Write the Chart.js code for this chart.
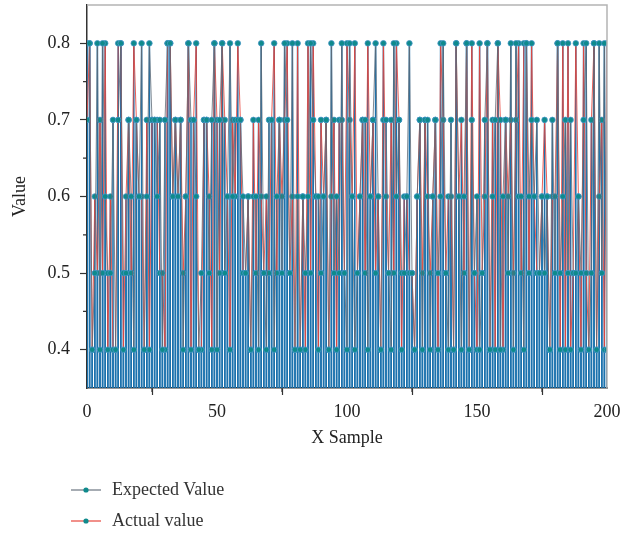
<!DOCTYPE html>
<html>
<head>
<meta charset="utf-8">
<script src="https://cdn.jsdelivr.net/npm/chart.js@4"></script>
<style>
  body { margin: 0; background: #fff; }
  #wrap { position: relative; width: 638px; height: 533px; }
  #legend { position: absolute; left: 71px; top: 474px; font: 18px "Liberation Serif", serif; color: #333; }
  .row { display: flex; align-items: center; height: 31px; }
  .row svg { margin-right: 11px; }
</style>
</head>
<body>
<div id="wrap">
  <canvas id="chart" width="638" height="533"></canvas>
  <div id="legend">
    <div class="row"><svg width="30" height="10"><line x1="0" y1="5" x2="30" y2="5" stroke="#6b7580" stroke-width="1.2"/><circle cx="15" cy="5" r="2.6" fill="#0f8a8c"/></svg>Expected Value</div>
    <div class="row"><svg width="30" height="10"><line x1="0" y1="5" x2="30" y2="5" stroke="#e8453c" stroke-width="1.2"/><circle cx="15" cy="5" r="2.6" fill="#0f8a8c"/></svg>Actual value</div>
  </div>
</div>
<script>
// values, sample 0 .. 200
const expected = [
  0.8,0.8,0.4,0.5,0.8,0.4,0.8,0.6,0.5,0.5,
  0.7,0.4,0.7,0.8,0.5,0.5,0.7,0.6,0.4,0.7,
  0.6,0.8,0.4,0.6,0.8,0.7,0.7,0.6,0.7,0.4,
  0.7,0.8,0.8,0.6,0.7,0.6,0.7,0.4,0.6,0.8,
  0.7,0.7,0.6,0.4,0.5,0.7,0.7,0.5,0.7,0.8,
  0.4,0.7,0.8,0.5,0.6,0.8,0.6,0.7,0.7,0.7,
  0.6,0.5,0.6,0.4,0.6,0.6,0.4,0.8,0.5,0.4,
  0.7,0.7,0.4,0.6,0.7,0.5,0.8,0.7,0.5,0.8,
  0.4,0.6,0.4,0.6,0.5,0.6,0.8,0.7,0.6,0.6,
  0.5,0.6,0.7,0.4,0.8,0.5,0.6,0.5,0.8,0.5,
  0.4,0.8,0.6,0.4,0.5,0.6,0.7,0.7,0.4,0.6,
  0.7,0.8,0.6,0.4,0.7,0.7,0.5,0.4,0.8,0.6,
  0.7,0.5,0.5,0.6,0.8,0.5,0.4,0.6,0.7,0.4,
  0.7,0.7,0.4,0.6,0.7,0.5,0.6,0.8,0.5,0.4,
  0.7,0.4,0.8,0.6,0.4,0.6,0.8,0.4,0.7,0.5,
  0.6,0.4,0.5,0.7,0.8,0.4,0.6,0.7,0.8,0.4,
  0.6,0.7,0.5,0.8,0.4,0.8,0.6,0.6,0.4,0.8,
  0.6,0.7,0.6,0.7,0.5,0.6,0.5,0.6,0.4,0.7,
  0.5,0.8,0.5,0.6,0.7,0.5,0.7,0.5,0.5,0.6,
  0.5,0.7,0.8,0.4,0.5,0.8,0.4,0.8,0.5,0.8,
  0.4
];
const actual = [
  0.7,0.8,0.4,0.6,0.5,0.7,0.5,0.8,0.4,0.6,
  0.4,0.4,0.8,0.8,0.4,0.6,0.7,0.5,0.8,0.7,
  0.6,0.6,0.4,0.7,0.4,0.7,0.7,0.7,0.5,0.5,
  0.4,0.8,0.8,0.6,0.7,0.6,0.7,0.5,0.6,0.8,
  0.4,0.7,0.8,0.4,0.4,0.7,0.7,0.6,0.4,0.8,
  0.7,0.5,0.8,0.7,0.6,0.4,0.7,0.6,0.8,0.7,
  0.5,0.5,0.6,0.4,0.7,0.5,0.7,0.6,0.5,0.6,
  0.5,0.7,0.8,0.5,0.7,0.6,0.7,0.8,0.5,0.6,
  0.4,0.8,0.4,0.6,0.4,0.8,0.5,0.8,0.6,0.4,
  0.7,0.6,0.7,0.4,0.6,0.7,0.4,0.7,0.7,0.5,
  0.8,0.7,0.6,0.8,0.5,0.6,0.7,0.5,0.8,0.6,
  0.7,0.5,0.6,0.4,0.8,0.6,0.5,0.7,0.5,0.8,
  0.7,0.4,0.6,0.6,0.5,0.5,0.4,0.6,0.7,0.5,
  0.7,0.6,0.5,0.6,0.7,0.4,0.8,0.7,0.5,0.6,
  0.6,0.4,0.8,0.6,0.7,0.5,0.8,0.4,0.8,0.5,
  0.4,0.8,0.5,0.6,0.8,0.4,0.7,0.4,0.8,0.7,
  0.4,0.7,0.6,0.7,0.5,0.7,0.8,0.5,0.8,0.8,
  0.5,0.8,0.6,0.5,0.5,0.6,0.7,0.6,0.4,0.6,
  0.6,0.8,0.4,0.8,0.4,0.8,0.4,0.5,0.8,0.6,
  0.4,0.8,0.5,0.4,0.7,0.8,0.4,0.6,0.7,0.4,
  0.8
];
const xTicks = [0, 50, 100, 150, 200];
const xMinor = [25, 75, 125, 175];
const yTicks = [0.4, 0.5, 0.6, 0.7, 0.8];
const yMinor = [0.45, 0.55, 0.65, 0.75];

const font = { family: "'Liberation Serif', serif", size: 18 };
const toPts = (arr) => arr.map((v, i) => ({ x: i, y: v }));

// short minor ticks plus the grey top/right frame
const extras = {
  id: "extras",
  afterDraw(chart) {
    const { ctx, chartArea: a, scales } = chart;
    ctx.save();
    ctx.strokeStyle = "#b4b4b4";
    ctx.lineWidth = 1.5;
    ctx.beginPath();
    ctx.moveTo(a.left, a.top);
    ctx.lineTo(a.right, a.top);
    ctx.lineTo(a.right, a.bottom);
    ctx.stroke();
    ctx.strokeStyle = "#333";
    ctx.lineWidth = 1.2;
    ctx.beginPath();
    xMinor.forEach((v) => {
      const px = scales.x.getPixelForValue(v);
      ctx.moveTo(px, a.bottom);
      ctx.lineTo(px, a.bottom + 4);
    });
    yMinor.forEach((v) => {
      const py = scales.y.getPixelForValue(v);
      ctx.moveTo(a.left, py);
      ctx.lineTo(a.left - 4, py);
    });
    ctx.stroke();
    ctx.restore();
  },
};

const stem = (arr, order) => ({
  type: "bar",
  data: toPts(arr),
  backgroundColor: "#1c72ad",
  barThickness: 0.9,
  grouped: false,
  base: 0.35,
  order,
});

new Chart(document.getElementById("chart"), {
  type: "line",
  plugins: [extras],
  data: {
    datasets: [
      stem(expected, 4),
      stem(actual, 3),
      {
        label: "Actual value",
        data: toPts(actual),
        borderColor: "rgba(232,69,60,0.85)",
        borderWidth: 1,
        pointRadius: 2.8,
        pointBackgroundColor: "#0f8a8c",
        pointBorderColor: "rgba(70,150,200,0.8)",
        pointBorderWidth: 1,
        tension: 0,
        order: 2,
      },
      {
        label: "Expected Value",
        data: toPts(expected),
        borderColor: "rgba(95,108,120,0.8)",
        borderWidth: 1,
        pointRadius: 2.8,
        pointBackgroundColor: "#0f8a8c",
        pointBorderColor: "rgba(70,150,200,0.8)",
        pointBorderWidth: 1,
        tension: 0,
        order: 1,
      },
    ],
  },
  options: {
    responsive: false,
    animation: false,
    layout: { padding: { left: 0, top: 4, right: 31, bottom: 84 } },
    plugins: {
      legend: { display: false },
      tooltip: { enabled: false },
    },
    scales: {
      x: {
        type: "linear",
        min: 0,
        max: 200,
        offset: false,
        afterBuildTicks: (s) => { s.ticks = xTicks.map((v) => ({ value: v })); },
        afterFit: (s) => { s.height = 61; },
        ticks: { font, color: "#222", padding: 6, maxRotation: 0 },
        grid: { display: true, drawOnChartArea: false, tickLength: 7, color: "#333", tickWidth: 1.2 },
        border: { display: true, color: "#333", width: 1.5 },
        title: { display: true, text: "X Sample", font, color: "#222", padding: 0 },
      },
      y: {
        min: 0.35,
        max: 0.85,
        afterBuildTicks: (s) => { s.ticks = yTicks.map((v) => ({ value: v })); },
        afterFit: (s) => { s.width = 87; s.paddingTop = 0; s.paddingBottom = 0; },
        ticks: { font, color: "#222", padding: 10, callback: (v) => v.toFixed(1) },
        grid: { display: true, drawOnChartArea: false, tickLength: 7, color: "#333", tickWidth: 1.2 },
        border: { display: true, color: "#333", width: 1.5 },
        title: { display: true, text: "Value", font, color: "#222", padding: { top: 9, bottom: 0 } },
      },
    },
  },
});
</script>
</body>
</html>
